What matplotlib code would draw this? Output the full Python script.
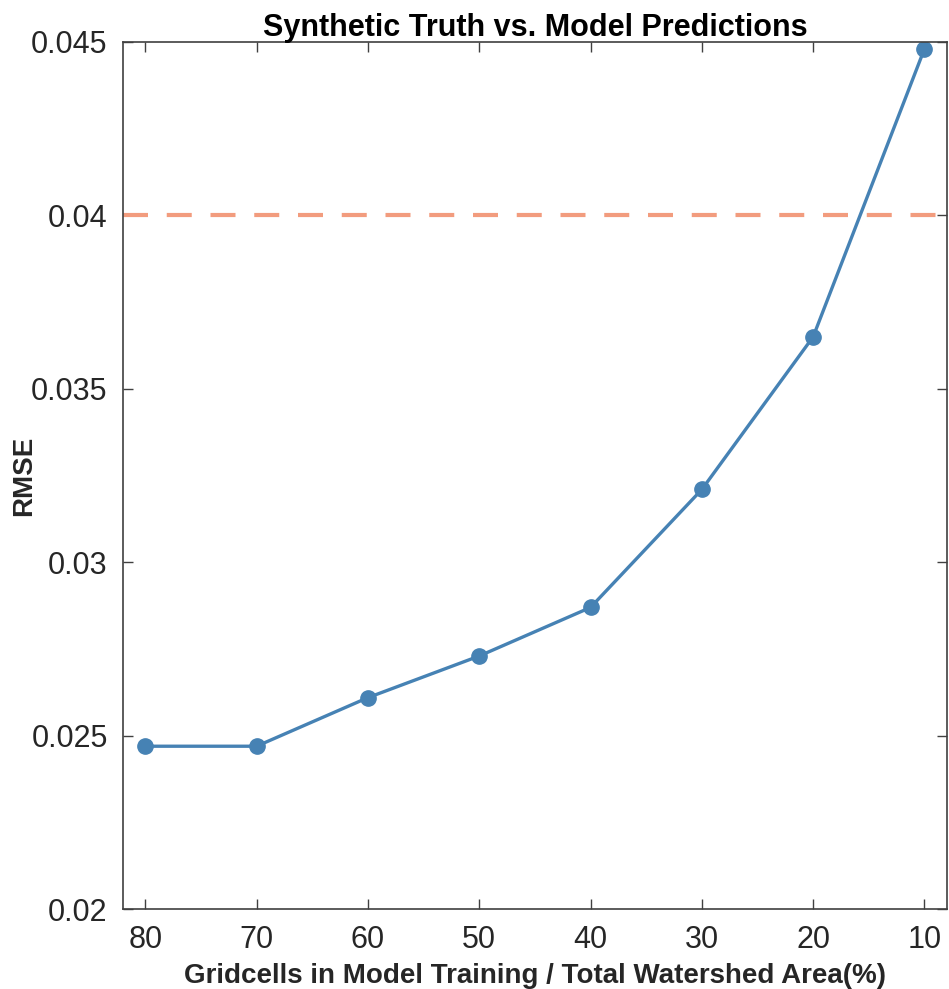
import matplotlib
matplotlib.use('Agg')
import matplotlib.pyplot as plt

# training fraction (%) and RMSE against synthetic truth
train_pct = [80, 70, 60, 50, 40, 30, 20, 10]
rmse = [0.0247, 0.0247, 0.0261, 0.0273, 0.0287, 0.0321, 0.0365, 0.0448]
threshold = 0.04

xticks = [80, 70, 60, 50, 40, 30, 20, 10]
yticks = [0.02, 0.025, 0.03, 0.035, 0.04, 0.045]
ytick_labels = ['0.02', '0.025', '0.03', '0.035', '0.04', '0.045']

plt.rcParams['font.family'] = ['Liberation Sans', 'DejaVu Sans']
text_col = '#262626'

fig = plt.figure(figsize=(9.49, 9.89), dpi=100)
ax = fig.add_axes([0.1296, 0.0806, 0.868, 0.877])

ax.axhline(threshold, color='#F29C7E', lw=3, dashes=(6, 4.5))
ax.plot(train_pct, rmse, color='#4682B4', lw=2.4, marker='o', markersize=11)

ax.set_xlim(82, 8)
ax.set_ylim(0.02, 0.045)
ax.set_xticks(xticks)
ax.set_yticks(yticks)
ax.set_yticklabels(ytick_labels)

ax.tick_params(direction='in', top=True, right=True, length=7, width=1,
               colors='#404040', labelcolor=text_col, labelsize=22)
ax.tick_params(axis='y', pad=11)
ax.tick_params(axis='x', pad=11)
for s in ax.spines.values():
    s.set_color('#404040')
    s.set_linewidth(1.2)

ax.set_title('Synthetic Truth vs. Model Predictions', fontsize=22,
             fontweight='bold', pad=4)
ax.set_xlabel('Gridcells in Model Training / Total Watershed Area(%)',
              fontsize=20, fontweight='bold', color=text_col, labelpad=6)
ax.set_ylabel('RMSE', fontsize=20, fontweight='bold', color=text_col)
ax.yaxis.set_label_coords(-0.104, 0.5)

fig.savefig('out.png', dpi=100)
